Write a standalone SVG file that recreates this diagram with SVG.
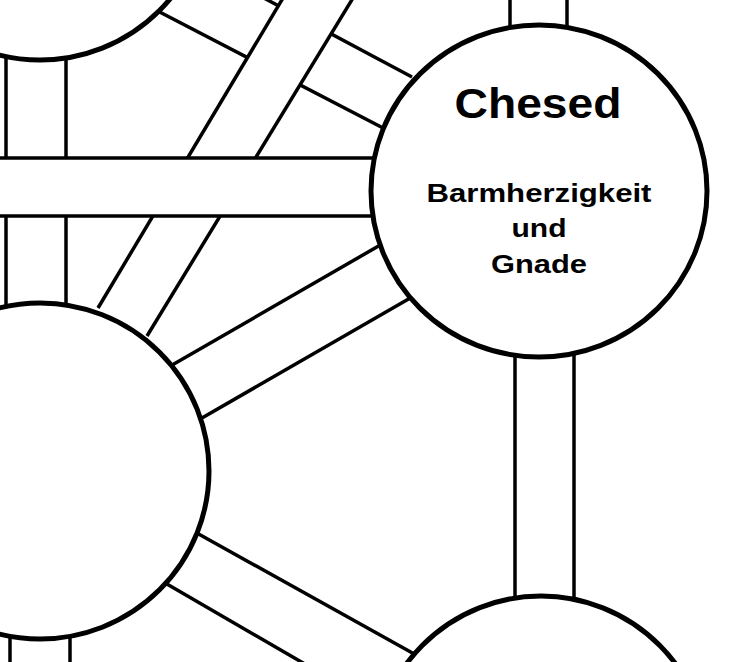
<svg xmlns="http://www.w3.org/2000/svg" width="735" height="662" viewBox="0 0 735 662">
<style>
.band{fill:#fff;stroke:none}
.edge{stroke:#000;stroke-width:3.5;fill:none}
.node{fill:#fff;stroke:#000;stroke-width:5}
.t{font-family:"Liberation Sans",Arial,sans-serif;font-weight:bold;fill:#000;text-anchor:middle}
</style>
<rect width="735" height="662" fill="#fff"/>
<g id="connectors">
  <!-- top-left to Chesed diagonal -->
  <polygon class="band" points="150,8 280,-5 420,75 380,130"/>
  <line class="edge" x1="150" y1="7" x2="385" y2="129"/>
  <line class="edge" x1="262" y1="-3" x2="412" y2="77"/>
  <!-- left circle up-right diagonal -->
  <polygon class="band" points="98,308 282,0 352,0 147,336"/>
  <line class="edge" x1="98" y1="308" x2="283" y2="-2"/>
  <line class="edge" x1="147" y1="336" x2="353" y2="-2"/>
  <!-- left vertical -->
  <polygon class="band" points="6,40 66,40 66,320 6,320"/>
  <line class="edge" x1="6" y1="40" x2="6" y2="320"/>
  <line class="edge" x1="66" y1="40" x2="66" y2="320"/>
  <!-- horizontal -->
  <rect class="band" x="-5" y="158" width="390" height="58"/>
  <line class="edge" x1="-5" y1="158" x2="385" y2="158"/>
  <line class="edge" x1="-5" y1="216" x2="385" y2="216"/>
  <!-- left to Chesed -->
  <polygon class="band" points="160,372 380,244 412,298 195,422"/>
  <line class="edge" x1="160" y1="372" x2="382" y2="244"/>
  <line class="edge" x1="195" y1="422" x2="412" y2="297"/>
  <!-- left to lower right -->
  <polygon class="band" points="195,533 420,658 420,670 300,670 160,580"/>
  <line class="edge" x1="195" y1="532" x2="425" y2="660"/>
  <line class="edge" x1="160" y1="580" x2="310" y2="667"/>
  <!-- Chesed top -->
  <line class="edge" x1="510" y1="-2" x2="510" y2="40"/>
  <line class="edge" x1="567" y1="-2" x2="567" y2="40"/>
  <!-- Chesed bottom -->
  <line class="edge" x1="515" y1="340" x2="515" y2="610"/>
  <line class="edge" x1="574" y1="340" x2="574" y2="610"/>
  <!-- left circle bottom -->
  <line class="edge" x1="10" y1="620" x2="10" y2="665"/>
  <line class="edge" x1="70" y1="620" x2="70" y2="665"/>
</g>
<g id="node-topleft"><circle class="node" cx="40" cy="-109" r="169"/></g>
<g id="node-left"><ellipse class="node" cx="40" cy="471" rx="169" ry="168"/></g>
<g id="node-bottomright"><ellipse class="node" cx="541" cy="765" rx="168" ry="169"/></g>
<g id="node-chesed">
  <ellipse class="node" cx="539" cy="191" rx="168" ry="166"/>
  <text class="t" x="538" y="118" font-size="42" textLength="167" lengthAdjust="spacingAndGlyphs">Chesed</text>
  <text class="t" x="539" y="202" font-size="26" textLength="225" lengthAdjust="spacingAndGlyphs">Barmherzigkeit</text>
  <text class="t" x="539" y="237" font-size="26" textLength="55" lengthAdjust="spacingAndGlyphs">und</text>
  <text class="t" x="539" y="273" font-size="26" textLength="96" lengthAdjust="spacingAndGlyphs">Gnade</text>
</g>
</svg>
